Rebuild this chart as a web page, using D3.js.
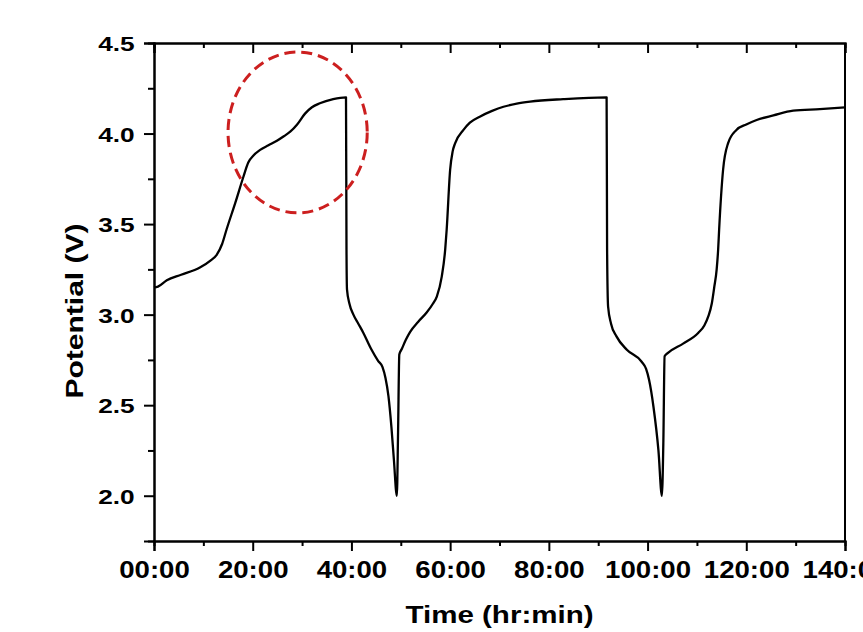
<!DOCTYPE html>
<html>
<head>
<meta charset="utf-8">
<script src="https://cdn.jsdelivr.net/npm/d3@7"></script>
<style>
  body { margin: 0; background: #fff; }
  svg { display: block; }
</style>
</head>
<body>
<div id="chart"></div>
<script>
// time in hours, potential in volts
const timeHours = [
  0, 0.8, 2.6, 5.5, 9.3, 11.5, 12.7, 13.8, 14.7, 16.5, 18.1, 19.1, 20.2, 21.5, 23.2, 24.9,
  26.3, 27.6, 29.0, 30.6, 32.0, 33.6, 36.3, 38.9,
  39.0, 39.1, 39.6, 40.4, 41.4, 42.4, 44.0, 45.4, 46.3, 46.9, 47.5, 48.1, 48.6, 49.2,
  49.45, 49.7, 50.2, 51.0, 51.9, 53.5, 55.2, 56.5, 57.3, 58.3, 59.0, 59.3, 60.0, 60.5,
  61.0, 62.7, 64.0, 66.0, 68.5, 70.8, 73.5, 76.2, 82.9, 91.7,
  91.8, 92.0, 92.6, 93.7, 95.8, 98.8, 99.7, 100.3, 101.2, 102.2, 102.9,
  103.2, 103.45, 104.2, 107.2, 110.3, 111.5, 112.3, 113.0, 113.5, 114.0, 114.3, 114.5,
  115.3, 116.3, 118.0, 120.0, 122.1, 125.5, 129.5, 134.9, 140
];
const potential = [
  3.15, 3.155, 3.19, 3.22, 3.26, 3.30, 3.33, 3.39, 3.47, 3.62, 3.76, 3.84, 3.88, 3.91, 3.935, 3.96,
  3.985, 4.01, 4.05, 4.11, 4.145, 4.167, 4.19, 4.20,
  3.36, 3.14, 3.06, 3.00, 2.95, 2.90, 2.81, 2.745, 2.71, 2.65, 2.55, 2.38, 2.20, 2.00,
  2.35, 2.78, 2.81, 2.86, 2.905, 2.96, 3.01, 3.06, 3.10, 3.21, 3.36, 3.47, 3.80, 3.90,
  3.946, 4.02, 4.06, 4.093, 4.125, 4.148, 4.165, 4.176, 4.19, 4.20,
  3.36, 3.045, 2.95, 2.88, 2.806, 2.74, 2.70, 2.64, 2.49, 2.25, 2.00,
  2.30, 2.77, 2.79, 2.84, 2.90, 2.94, 2.99, 3.06, 3.15, 3.25, 3.36, 3.47,
  3.80, 3.946, 4.02, 4.05, 4.075, 4.10, 4.126, 4.135, 4.145
];

const xMajor = [0, 20, 40, 60, 80, 100, 120, 140];
const xMinor = [10, 30, 50, 70, 90, 110, 130];
const xLabels = ["00:00", "20:00", "40:00", "60:00", "80:00", "100:00", "120:00", "140:00"];
const yMajor = [2.0, 2.5, 3.0, 3.5, 4.0, 4.5];
const yMinor = [2.25, 2.75, 3.25, 3.75, 4.25];

// highlighted region (dashed ellipse): center and radii in data units
const highlight = { t: 29.1, v: 4.006, rt: 14.1, rv: 0.444 };

const W = 863, H = 632;
const plotLeft = 154, plotRight = 845, plotTop = 43, plotBottom = 541;
const font = "'Liberation Sans', Arial, Helvetica, sans-serif";

const x = d3.scaleLinear().domain([0, 140]).range([plotLeft, plotRight]);
const y = d3.scaleLinear().domain([1.75, 4.5]).range([plotBottom, plotTop]);

const svg = d3.select("#chart").append("svg")
  .attr("width", W)
  .attr("height", H);

function styleAxis(g) {
  g.select(".domain").attr("stroke", "#000").attr("stroke-width", 2);
  g.selectAll(".tick line").attr("stroke", "#000").attr("stroke-width", 2);
}

// bottom axis
const xAxis = svg.append("g")
  .attr("transform", `translate(0,${plotBottom})`)
  .call(d3.axisBottom(x).tickValues(xMajor).tickSize(10)
    .tickFormat((d, i) => xLabels[i]))
  .call(styleAxis);
xAxis.selectAll("text")
  .attr("y", 37).attr("dy", null)
  .attr("transform", "scale(1.2,1)")
  .style("font-family", font).style("font-size", "23px")
  .style("font-weight", "bold").attr("fill", "#000");

svg.append("g")
  .attr("transform", `translate(0,${plotBottom})`)
  .call(d3.axisBottom(x).tickValues(xMinor).tickSize(5).tickFormat(""))
  .call(styleAxis);

// top axis, ticks pointing in
svg.append("g")
  .attr("transform", `translate(0,${plotTop})`)
  .call(d3.axisTop(x).tickValues(xMajor).tickSize(-10).tickFormat(""))
  .call(styleAxis);
svg.append("g")
  .attr("transform", `translate(0,${plotTop})`)
  .call(d3.axisTop(x).tickValues(xMinor).tickSize(-5).tickFormat(""))
  .call(styleAxis);

// left axis
const yAxis = svg.append("g")
  .attr("transform", `translate(${plotLeft},0)`)
  .call(d3.axisLeft(y).tickValues(yMajor).tickSize(10).tickFormat(d3.format(".1f")))
  .call(styleAxis);
yAxis.selectAll("text")
  .attr("x", -15.5).attr("dy", "7.5px")
  .attr("transform", "scale(1.25,1)")
  .style("font-family", font).style("font-size", "21px")
  .style("font-weight", "bold").attr("fill", "#000");

svg.append("g")
  .attr("transform", `translate(${plotLeft},0)`)
  .call(d3.axisLeft(y).tickValues(yMinor).tickSize(6).tickFormat(""))
  .call(styleAxis);

// right frame line
svg.append("line")
  .attr("x1", plotRight).attr("x2", plotRight)
  .attr("y1", plotTop).attr("y2", plotBottom)
  .attr("stroke", "#000").attr("stroke-width", 2);

// the potential curve
const pts = timeHours.map((t, i) => [t, potential[i]]);
const line = d3.line()
  .x(d => x(d[0]))
  .y(d => y(d[1]))
  .curve(d3.curveMonotoneX);

svg.append("path")
  .datum(pts)
  .attr("d", line)
  .attr("fill", "none")
  .attr("stroke", "#000")
  .attr("stroke-width", 2.3)
  .attr("stroke-linejoin", "round");

// dashed ellipse
svg.append("ellipse")
  .attr("cx", x(highlight.t))
  .attr("cy", y(highlight.v))
  .attr("rx", x(highlight.t + highlight.rt) - x(highlight.t))
  .attr("ry", y(highlight.v - highlight.rv) - y(highlight.v))
  .attr("fill", "none")
  .attr("stroke", "#cc1f1f")
  .attr("stroke-width", 3)
  .attr("stroke-dasharray", "11,6");

// axis titles
svg.append("text")
  .attr("transform", `translate(${(plotLeft + plotRight) / 2},623) scale(1.23,1)`)
  .attr("text-anchor", "middle")
  .style("font-family", font).style("font-size", "24px").style("font-weight", "bold")
  .text("Time (hr:min)");

svg.append("text")
  .attr("transform", "translate(83,311) rotate(-90) scale(1.25,1)")
  .attr("text-anchor", "middle")
  .style("font-family", font).style("font-size", "24px").style("font-weight", "bold")
  .text("Potential (V)");
</script>
</body>
</html>
